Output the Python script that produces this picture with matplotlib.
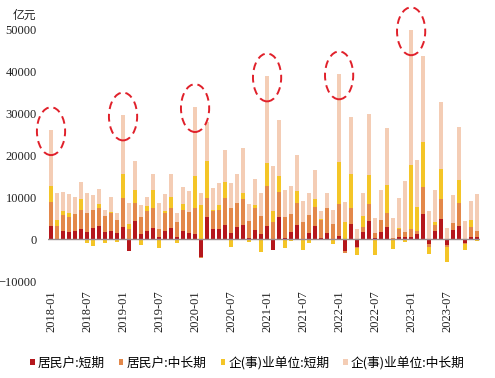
import numpy as np
import pandas as pd
import matplotlib
matplotlib.use("Agg")
import matplotlib.pyplot as plt
from matplotlib.patches import Ellipse, Patch

# monthly new RMB loans by borrower, 亿元, 2018-01 .. 2023-12
months = pd.period_range("2018-01", "2023-12", freq="M").strftime("%Y-%m").tolist()

hh_short = [
    3200, -300, 2000, 1750, 2000, 2300, 1700, 2700, 3100, 1700, 1900, 1500,
    2900, -2800, 4400, 1200, 2000, 2700, 550, 2000, 2700, 550, 1900, 1500,
    1300, -4300, 5300, 2300, 2300, 3300, 1500, 2900, 3300, 200, 2200, 1300,
    3200, -2500, 5200, 300, 1750, 3400, 50, 1400, 3200, 250, 1500, 100,
    800, -2800, 3700, -1800, 1750, 4300, 200, 1750, 2900, -200, 550, 400,
    400, 1100, 6000, -1100, 2000, 4800, -1400, 2100, 3200, -1000, 550, 550,
]
hh_long = [
    5700, 3200, 3700, 3450, 4000, 4600, 4600, 4300, 4200, 3800, 4400, 3000,
    6900, 2300, 4200, 4000, 4700, 4600, 1750, 4300, 4800, 3550, 5000, 5000,
    6200, -300, 4400, 4400, 4600, 6400, 6000, 5600, 6300, 4100, 5300, 4300,
    9400, 4100, 6100, 4900, 4250, 5200, 4050, 4300, 4500, 4250, 5800, 3600,
    7600, -500, 3700, -300, 1100, 4100, 1150, 2750, 3400, 150, 1950, 1350,
    2100, 900, 6500, -900, 1300, 4700, -550, 1800, 5400, -200, 2250, 1450,
]
corp_short = [
    3800, 1300, 1000, 900, -300, 2700, -1000, -1600, 1000, -900, 200, -600,
    5800, 1400, 3200, -1400, 1200, 4500, -2100, 300, 2600, -900, 1400, -200,
    7500, 8000, 8900, 300, 1200, 3800, -2000, 200, 1400, -700, 700, -3000,
    5600, 2600, 3800, -2200, -400, 2900, -2600, -1000, 1900, 200, 200, -1200,
    10000, 4000, 8100, -1700, 2650, 6800, -3700, 100, 6600, -2200, 100, -600,
    15100, 5700, 10700, -1500, 800, 7200, -3600, -300, 5400, -1500, 1700, -400,
]
corp_long = [
    13300, 6500, 4600, 4600, 4100, 4100, 4700, 3500, 3700, 1400, 3400, 1800,
    13900, 5000, 6800, 2900, 2200, 3800, 6400, 4100, 5500, 2200, 4200, 5000,
    16500, 3000, 9300, 5200, 5300, 7700, 5800, 6900, 10600, 4000, 6000, 5400,
    20600, 10700, 13200, 6600, 6700, 8500, 4900, 5300, 6900, 2100, 3500, 3300,
    20900, 4900, 13500, 2500, 5500, 14600, 3550, 7100, 13500, 4750, 7200, 12150,
    32200, 11100, 20400, 6700, 7600, 16000, 2700, 6600, 12600, 4300, 4500, 8700,
]

series = [hh_short, hh_long, corp_short, corp_long]
names = ["居民户:短期", "居民户:中长期", "企(事)业单位:短期", "企(事)业单位:中长期"]
colors = ["#b5171c", "#e3884a", "#f4c527", "#f4cdb5"]

cjk = ["Noto Sans CJK SC", "DejaVu Sans"]
serif = "Liberation Serif"

fig = plt.figure(figsize=(4.95, 3.78), dpi=100)
ax = fig.add_axes([0.097, 0.251, 0.873, 0.694])

x = np.arange(len(months))
pos = np.zeros(len(months))
neg = np.zeros(len(months))
for vals, c in zip(series, colors):
    v = np.array(vals, dtype=float)
    bottom = np.where(v >= 0, pos, neg)
    ax.bar(x, v, bottom=bottom, width=0.62, color=c, linewidth=0, zorder=2)
    pos += np.clip(v, 0, None)
    neg += np.clip(v, None, 0)

ax.axhline(0, color="#9a8c8e", lw=1.0, zorder=3)

# dashed circles around the January peaks
for i in range(0, len(months), 12):
    ax.add_patch(Ellipse((x[i], pos[i] - 300), width=4.7, height=11400, fill=False,
                         edgecolor="#e0202a", lw=1.4, linestyle=(0, (4, 2.5)),
                         zorder=4, clip_on=False))

ax.set_xlim(-0.5, len(months) - 0.5)
ax.set_ylim(-10500, 52000)
ax.set_yticks(np.arange(-10000, 50001, 10000))
ax.set_xticks(x[::6])
ax.set_xticklabels(months[::6], rotation=90, fontfamily=serif, fontsize=9)
for lab in ax.get_yticklabels():
    lab.set_fontfamily(serif)
    lab.set_fontsize(9)
ax.tick_params(axis="both", length=0, colors="#222222")
ax.tick_params(axis="y", pad=8)
ax.tick_params(axis="x", pad=5)
for s in ax.spines.values():
    s.set_visible(False)

fig.text(36 / 495, 1 - 15 / 378, "亿元", ha="right", va="center",
         fontsize=8.5, family=cjk, color="#222222")

handles = [Patch(facecolor=c, edgecolor="none") for c in colors]
fig.legend(handles, names, loc="center", bbox_to_anchor=(0.5, 0.04), ncol=4,
           frameon=False, prop={"family": cjk, "size": 9.2},
           handlelength=0.35, handleheight=0.45, handletextpad=0.25,
           columnspacing=1.1)

fig.savefig("out.png", dpi=100)
